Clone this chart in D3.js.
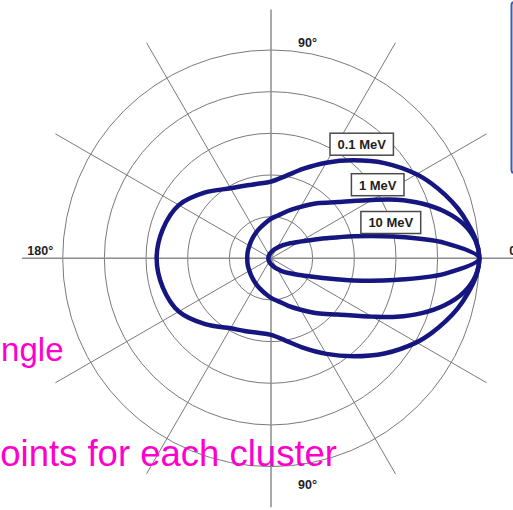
<!DOCTYPE html>
<html>
<head>
<meta charset="utf-8">
<script src="https://cdn.jsdelivr.net/npm/d3@7"></script>
<style>
  html, body { margin: 0; padding: 0; background: #fff; }
  svg { display: block; }
</style>
</head>
<body>
<svg id="chart" width="513" height="510"></svg>
<script>
// Scattering angle (degrees) at which each curve is sampled; the lower half mirrors the upper.
const angles = [0, 5, 10, 15, 20, 25, 30, 40, 50, 60, 70, 80, 90, 100, 110, 120, 135, 150, 165, 180];

// Relative intensity (1 = forward direction) for each photon energy.
const mev01 = [1.0, 0.988, 0.96, 0.928, 0.89, 0.85, 0.807, 0.711, 0.614, 0.53, 0.458, 0.401, 0.368, 0.363, 0.371, 0.388, 0.447, 0.511, 0.538, 0.549];
const mev1  = [1.0, 0.985, 0.94, 0.865, 0.77, 0.665, 0.56, 0.42, 0.345, 0.285, 0.243, 0.21, 0.19, 0.17, 0.155, 0.143, 0.129, 0.12, 0.116, 0.114];
const mev10 = [1.0, 0.84, 0.60, 0.41, 0.28, 0.205, 0.16, 0.11, 0.08, 0.058, 0.045, 0.035, 0.028, 0.024, 0.02, 0.018, 0.015, 0.014, 0.013, 0.013];

const seriesNames = ["0.1 MeV", "1 MeV", "10 MeV"];
const seriesValues = [mev01, mev1, mev10];

// Polar grid
const ringValues = [0.2, 0.4, 0.6, 0.8, 1.0];
const spokeAngles = [0, 30, 60, 90, 120, 150];
const axisLabels = ["90°", "180°", "90°", "0°"];

// Slide captions
const captionLines = ["ngle", "points for each cluster"];

const svg = d3.select("#chart");
const cx = 271, cy = 258.3;
const r = d3.scaleLinear().domain([0, 1]).range([0, 208.3]);
const rad = d => d * Math.PI / 180;

const g = svg.append("g").attr("transform", `translate(${cx},${cy})`);

// Rings
g.selectAll("circle.ring")
  .data(ringValues)
  .join("circle")
  .attr("class", "ring")
  .attr("r", d => r(d))
  .attr("fill", "none")
  .attr("stroke", "#7a7a7a")
  .attr("stroke-width", 1);

// Spokes through the centre
const spokeLen = r(1.195);
g.selectAll("line.spoke")
  .data(spokeAngles)
  .join("line")
  .attr("class", "spoke")
  .attr("x1", d => -spokeLen * Math.cos(rad(d)))
  .attr("y1", d => spokeLen * Math.sin(rad(d)))
  .attr("x2", d => spokeLen * Math.cos(rad(d)))
  .attr("y2", d => -spokeLen * Math.sin(rad(d)))
  .attr("stroke", d => (d % 90 === 0) ? "#8c8c8c" : "#7a7a7a")
  .attr("stroke-width", d => (d % 90 === 0) ? 1.5 : 1);

// Angle labels
const labelFont = "'Liberation Sans', Arial, Helvetica, sans-serif";
const lbl = (text, x, y, anchor) => g.append("text")
  .attr("x", x).attr("y", y)
  .attr("text-anchor", anchor)
  .attr("font-family", labelFont)
  .attr("font-weight", "bold")
  .attr("font-size", "12.5px")
  .attr("fill", "#1e1e1e")
  .text(text);
lbl(axisLabels[0], 27, -r(1) - 3.5, "start");
lbl(axisLabels[1], -r(1) - 9.5, -3.5, "end");
lbl(axisLabels[2], 27, r(1) + 22.5, "start");
lbl(axisLabels[3], r(1) + 30, -3.5, "start");

// Distribution curves
const line = d3.lineRadial()
  .angle(d => rad(90 - d[0]))
  .radius(d => r(d[1]))
  .curve(d3.curveCatmullRomClosed.alpha(0.5));

const loops = seriesValues.map(vals => {
  const upper = angles.map((a, i) => [a, vals[i]]);
  const lower = angles.slice(1, -1).map((a, i) => [-a, vals[i + 1]]).reverse();
  return upper.concat(lower);
});

g.selectAll("path.curve")
  .data(loops)
  .join("path")
  .attr("class", "curve")
  .attr("d", line)
  .attr("fill", "none")
  .attr("stroke", "#161680")
  .attr("stroke-width", 4.5)
  .attr("stroke-linejoin", "round");

// Energy tags
const tagCenters = [[90.7, -114.1], [106.7, -73.6], [119.8, -35.8]];
seriesNames.forEach((name, i) => {
  const tg = g.append("g").attr("transform", `translate(${tagCenters[i][0]},${tagCenters[i][1]})`);
  const rect = tg.append("rect").attr("fill", "#fff").attr("stroke", "#4a4a4a").attr("stroke-width", 1.5);
  const t = tg.append("text")
    .attr("text-anchor", "middle")
    .attr("y", 5)
    .attr("font-family", labelFont)
    .attr("font-weight", "bold")
    .attr("font-size", "13px")
    .attr("fill", "#1e1e1e")
    .text(name);
  const w = t.node().getComputedTextLength() + 15;
  rect.attr("x", -w / 2).attr("y", -11).attr("width", w).attr("height", 22);
});

// Frame edge of the neighbouring panel
svg.append("rect")
  .attr("x", 511.5).attr("y", 2).attr("width", 60).attr("height", 171).attr("rx", 3)
  .attr("fill", "none").attr("stroke", "#3c5cb4").attr("stroke-width", 2);

// Captions
const capFont = "'Liberation Sans', Arial, Helvetica, sans-serif";
svg.append("text")
  .attr("x", 63.5).attr("y", 360.5)
  .attr("text-anchor", "end")
  .attr("font-family", capFont)
  .attr("font-size", "33px")
  .attr("fill", "#ff00cc")
  .text(captionLines[0]);
svg.append("text")
  .attr("x", 337).attr("y", 465.5)
  .attr("text-anchor", "end")
  .attr("font-family", capFont)
  .attr("font-size", "36.5px")
  .attr("fill", "#ff00cc")
  .text(captionLines[1]);
</script>
</body>
</html>
